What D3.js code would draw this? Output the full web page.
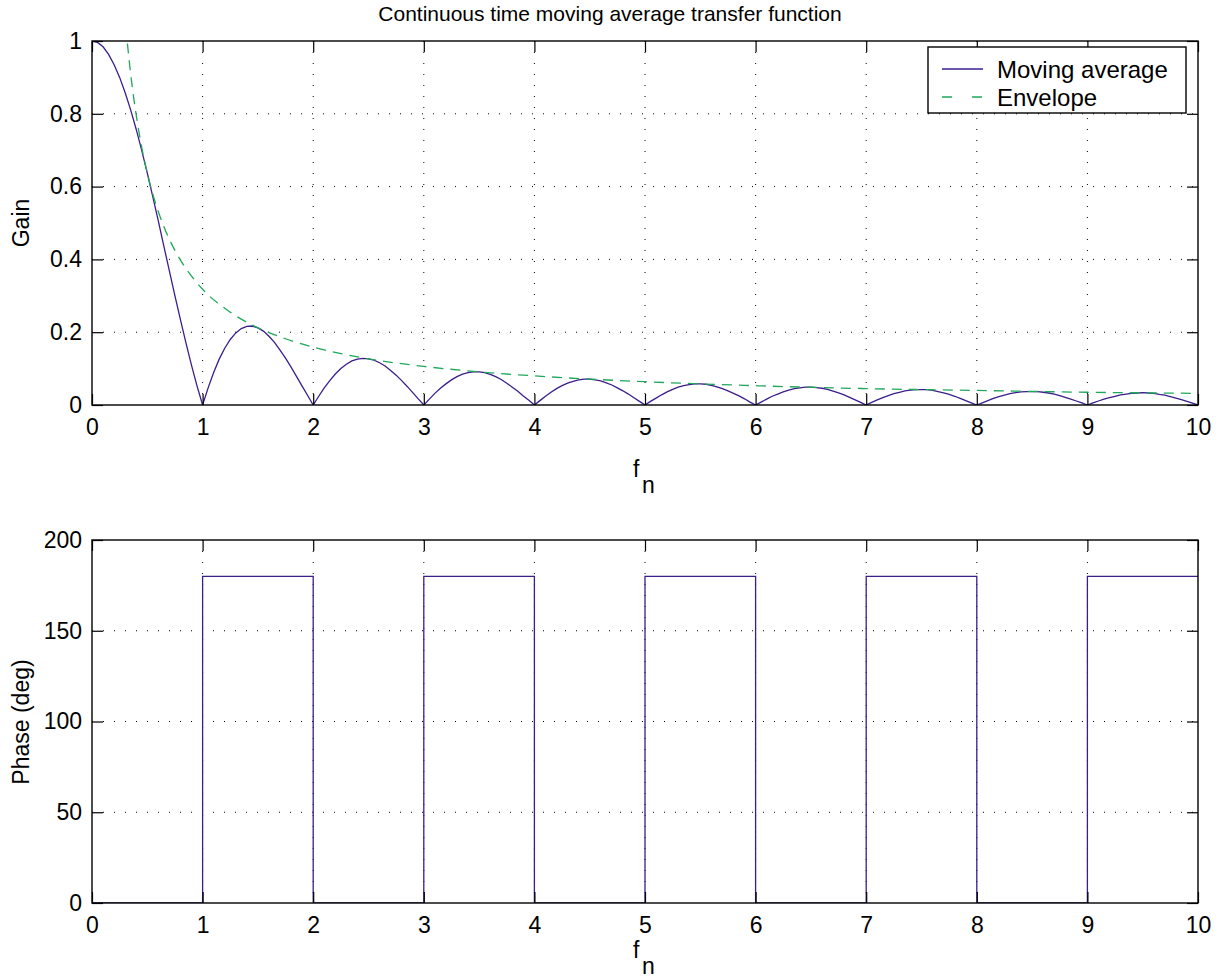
<!DOCTYPE html>
<html>
<head>
<meta charset="utf-8">
<script src="https://cdn.jsdelivr.net/npm/d3@7"></script>
<style>
  body { margin: 0; background: #fff; }
  text { font-family: "Liberation Sans", Arial, sans-serif; fill: #000; }
</style>
</head>
<body>
<div id="chart"></div>
<script>
// sample grid of the gain curve, 0 to 10 in 0.05 steps
var sampleStep = 0.05;

// |H(f)|, one row per lobe (20 samples each, last point at f = 10)
var gain = [
  1.000,0.996,0.984,0.963,0.935,0.900,0.858,0.810,0.757,0.699,0.637,0.572,0.505,0.436,0.368,0.300,0.234,0.170,0.109,0.052,
  0.000,0.047,0.089,0.126,0.156,0.180,0.198,0.210,0.216,0.217,0.212,0.203,0.189,0.172,0.151,0.129,0.104,0.078,0.052,0.026,
  0.000,0.024,0.047,0.067,0.085,0.100,0.112,0.121,0.126,0.128,0.127,0.123,0.116,0.107,0.095,0.082,0.067,0.051,0.034,0.017,
  0.000,0.016,0.032,0.046,0.058,0.069,0.078,0.085,0.089,0.091,0.091,0.089,0.084,0.078,0.070,0.060,0.049,0.038,0.025,0.013,
  0.000,0.012,0.024,0.035,0.045,0.053,0.060,0.065,0.069,0.071,0.071,0.069,0.066,0.061,0.055,0.047,0.039,0.030,0.020,0.010,
  0.000,0.010,0.019,0.028,0.036,0.043,0.049,0.053,0.056,0.058,0.058,0.057,0.054,0.050,0.045,0.039,0.032,0.025,0.017,0.008,
  0.000,0.008,0.016,0.024,0.030,0.036,0.041,0.045,0.047,0.049,0.049,0.048,0.046,0.043,0.038,0.033,0.028,0.021,0.014,0.007,
  0.000,0.007,0.014,0.020,0.026,0.031,0.035,0.039,0.041,0.042,0.042,0.042,0.040,0.037,0.033,0.029,0.024,0.018,0.012,0.006,
  0.000,0.006,0.012,0.018,0.023,0.027,0.031,0.034,0.036,0.037,0.037,0.037,0.035,0.033,0.030,0.026,0.021,0.016,0.011,0.006,
  0.000,0.006,0.011,0.016,0.020,0.024,0.028,0.030,0.032,0.033,0.034,0.033,0.032,0.029,0.027,0.023,0.019,0.015,0.010,0.005,
  0.000
];

// envelope (dashed), runs off the top of the axes near f = 0.3
var envF    = [0.25, 0.30, 0.35, 0.40, 0.45, 0.50, 0.55, 0.60, 0.65, 0.70, 0.80, 0.90, 1.00, 1.25, 1.50, 1.75, 2.00, 2.50, 3.00, 3.50, 4.00, 5.00, 6.00, 7.00, 8.00, 9.00, 10.0];
var envGain = [1.273, 1.061, 0.909, 0.796, 0.707, 0.637, 0.579, 0.531, 0.490, 0.455, 0.398, 0.354, 0.318, 0.255, 0.212, 0.182, 0.159, 0.127, 0.106, 0.091, 0.080, 0.064, 0.053, 0.045, 0.040, 0.035, 0.032];

// phase: value held from each edge to the next one
var phaseEdges = [0, 1, 2, 3, 4, 5, 6, 7, 8, 9, 10];
var phaseDeg   = [0, 180, 0, 180, 0, 180, 0, 180, 0, 180, 180];

var xTicks = [0, 1, 2, 3, 4, 5, 6, 7, 8, 9, 10];
var gainTicks = [0, 0.2, 0.4, 0.6, 0.8, 1];
var phaseTicks = [0, 50, 100, 150, 200];

var legendNames = ["Moving average", "Envelope"];

var purple = "#3b1e8c";
var green = "#1fa85a";
var fontSize = "23px";

var W = 1224, H = 978;
var left = 92, right = 1198;

var svg = d3.select("#chart").append("svg")
  .attr("width", W)
  .attr("height", H)
  .style("background", "#fff");

var x = d3.scaleLinear().domain([0, 10]).range([left, right]);
var yGain = d3.scaleLinear().domain([0, 1]).range([405, 41]);
var yPhase = d3.scaleLinear().domain([0, 200]).range([903, 540]);

var tickLen = 11;

function drawGrid(y, yTicks, id) {
  var top = y.range()[1], bottom = y.range()[0];
  var g = svg.append("g");

  // dotted grid
  g.selectAll(".gx").data(xTicks.slice(1, -1)).enter().append("line")
    .attr("x1", d => x(d)).attr("x2", d => x(d))
    .attr("y1", top).attr("y2", bottom)
    .attr("stroke", "#000").attr("stroke-width", 1)
    .attr("stroke-dasharray", "1,10");
  g.selectAll(".gy").data(yTicks.slice(1, -1)).enter().append("line")
    .attr("x1", left).attr("x2", right)
    .attr("y1", d => y(d)).attr("y2", d => y(d))
    .attr("stroke", "#000").attr("stroke-width", 1)
    .attr("stroke-dasharray", "1,10");

  svg.append("clipPath").attr("id", id)
    .append("rect").attr("x", left).attr("y", top)
    .attr("width", right - left).attr("height", bottom - top);
}

function drawFrame(y, yTicks, fmt) {
  var top = y.range()[1], bottom = y.range()[0];
  var g = svg.append("g");

  var bottomAxis = d3.axisBottom(x).tickValues(xTicks).tickSize(-tickLen).tickPadding(14).tickFormat(d3.format("d"));
  var topAxis = d3.axisTop(x).tickValues(xTicks).tickSize(-tickLen).tickFormat("");
  var leftAxis = d3.axisLeft(y).tickValues(yTicks).tickSize(-tickLen).tickPadding(10).tickFormat(fmt);
  var rightAxis = d3.axisRight(y).tickValues(yTicks).tickSize(-tickLen).tickFormat("");

  g.append("g").attr("transform", "translate(0," + bottom + ")").call(bottomAxis);
  g.append("g").attr("transform", "translate(0," + top + ")").call(topAxis);
  g.append("g").attr("transform", "translate(" + left + ",0)").call(leftAxis);
  g.append("g").attr("transform", "translate(" + right + ",0)").call(rightAxis);

  g.selectAll(".domain").remove();
  g.selectAll(".tick line").attr("stroke", "#000").attr("stroke-width", 1.2);
  g.selectAll(".tick text")
    .style("font-family", "'Liberation Sans', Arial, sans-serif")
    .style("font-size", fontSize)
    .attr("fill", "#000");

  g.append("rect")
    .attr("x", left).attr("y", top)
    .attr("width", right - left).attr("height", bottom - top)
    .attr("fill", "none").attr("stroke", "#000").attr("stroke-width", 1.4);
}

function fnLabel(baseline) {
  var t = svg.append("text").style("font-size", fontSize);
  t.append("tspan").attr("x", 633).attr("y", baseline).text("f");
  t.append("tspan").attr("x", 642).attr("y", baseline + 16).text("n");
}

// ---- top: gain ----
drawGrid(yGain, gainTicks, "clipTop");

var gainLine = d3.line()
  .x((d, i) => x(i * sampleStep))
  .y(d => yGain(d));

svg.append("path")
  .datum(gain)
  .attr("clip-path", "url(#clipTop)")
  .attr("d", gainLine)
  .attr("fill", "none")
  .attr("stroke", purple)
  .attr("stroke-width", 1.3);

var envLine = d3.line()
  .x((d, i) => x(envF[i]))
  .y(d => yGain(d))
  .curve(d3.curveMonotoneX);

svg.append("path")
  .datum(envGain)
  .attr("clip-path", "url(#clipTop)")
  .attr("d", envLine)
  .attr("fill", "none")
  .attr("stroke", green)
  .attr("stroke-width", 1.3)
  .attr("stroke-dasharray", "10,7");

drawFrame(yGain, gainTicks, d3.format("~g"));

// legend
var leg = svg.append("g");
leg.append("rect")
  .attr("x", 928).attr("y", 47).attr("width", 258).attr("height", 66)
  .attr("fill", "#fff").attr("stroke", "#000").attr("stroke-width", 1.4);
legendNames.forEach(function(name, i) {
  var ly = 69 + i * 28;
  leg.append("line")
    .attr("x1", 942).attr("x2", 983).attr("y1", ly).attr("y2", ly)
    .attr("stroke", i === 0 ? purple : green)
    .attr("stroke-width", 1.3)
    .attr("stroke-dasharray", i === 0 ? null : "10,20");
  leg.append("text")
    .attr("x", 997).attr("y", ly + 9)
    .style("font-size", "24px")
    .text(name);
});

// title and labels
svg.append("text")
  .attr("x", 610).attr("y", 21)
  .attr("text-anchor", "middle")
  .style("font-size", "21px")
  .text("Continuous time moving average transfer function");

svg.append("text")
  .attr("transform", "translate(29,223) rotate(-90)")
  .attr("text-anchor", "middle")
  .style("font-size", fontSize)
  .text("Gain");

fnLabel(477);

// ---- bottom: phase ----
drawGrid(yPhase, phaseTicks, "clipBottom");

var phaseLine = d3.line()
  .x((d, i) => x(phaseEdges[i]))
  .y(d => yPhase(d))
  .curve(d3.curveStepAfter);

svg.append("path")
  .datum(phaseDeg)
  .attr("clip-path", "url(#clipBottom)")
  .attr("d", phaseLine)
  .attr("fill", "none")
  .attr("stroke", purple)
  .attr("stroke-width", 1.3);

drawFrame(yPhase, phaseTicks, d3.format("d"));

svg.append("text")
  .attr("transform", "translate(29,722) rotate(-90)")
  .attr("text-anchor", "middle")
  .style("font-size", fontSize)
  .text("Phase (deg)");

fnLabel(958);
</script>
</body>
</html>
